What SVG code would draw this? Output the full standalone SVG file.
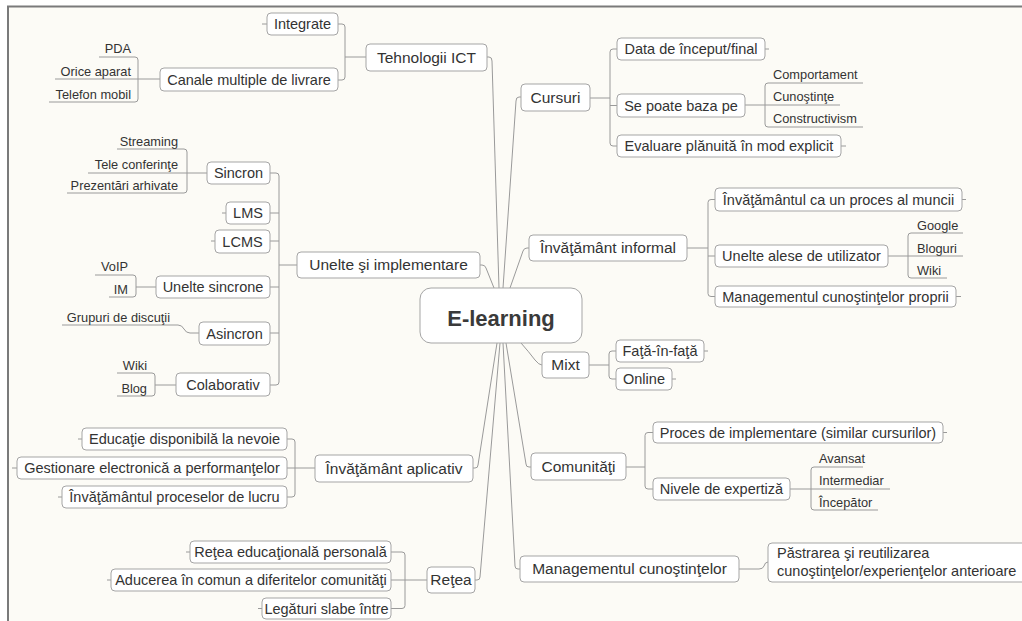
<svg xmlns="http://www.w3.org/2000/svg" width="1022" height="621" viewBox="0 0 1022 621">
<style>
.bx{fill:#fff;stroke:#a5a5a5;stroke-width:1}
.t{font-family:"Liberation Sans",Arial,sans-serif;font-size:14.5px;fill:#333}
.m{text-anchor:middle}
.s{font-family:"Liberation Sans",Arial,sans-serif;font-size:12.8px;fill:#333}
.e{text-anchor:end}
.c{fill:none;stroke:#9a9a9a;stroke-width:1}
</style>
<rect x="0" y="0" width="1022" height="621" fill="#fff"/>
<rect x="8" y="6" width="1014" height="615" fill="#fcfbf6"/>
<path d="M8,621 V6.5 H1022" fill="none" stroke="#7a7a7a" stroke-width="2"/>

<g id="connectors" class="c">
<!-- main -->
<path d="M487,57 H489 Q492,57 492,61 L499,288"/>
<path d="M521,97 H519 Q516,97 516,101 L503,288"/>
<path d="M480,265 H482 Q485,265 486,268 L494,288"/>
<path d="M529,248 H527 Q524,248 523,251 L510,288"/>
<path d="M521,343 Q529,352 535,360 Q539,365 542,365"/>
<path d="M473,468 H475 Q478,468 478,465 L497,343"/>
<path d="M475,580 H477 Q480,580 480,577 L500,343"/>
<path d="M520,569 H518 Q515,569 515,566 L503,343"/>
<path d="M531,467 H529 Q526,467 526,464 L506,343"/>
<!-- Tehnologii ICT -->
<path d="M338,24 H342 Q345,24 345,27 V77 Q345,80 342,80 H338 M345,57 H366"/>
<path d="M99,57 H135 Q138,57 138,60 V99 Q138,102 135,102 H49 M55,79 H160"/>
<path d="M267,24 H262"/>
<!-- Unelte -->
<path d="M270,173 H276 Q279,173 279,176 V382 Q279,385 276,385 H270 M270,213 H279 M270,241 H279 M270,287 H279 M270,333 H279 M279,265 H297"/>
<path d="M117,149 H184 Q187,149 187,152 V190 Q187,193 184,193 H67 M88,173 H207"/>
<path d="M226,213 H222 M215,241 H211"/>
<path d="M95,275 H133 Q136,275 136,278 V294 Q136,297 133,297 H109 M136,287 H156"/>
<path d="M62,325 H178 Q182,325 184,329 Q186,333 190,333 H199"/>
<path d="M117,373 H152 Q155,373 155,376 V393 Q155,396 152,396 H117 M155,385 H176"/>
<!-- Cursuri -->
<path d="M617,49 H613 Q610,49 610,52 V143 Q610,146 613,146 H617 M610,105.5 H617 M590,98 H610"/>
<path d="M765,49 H769 M841,146 H846"/>
<path d="M863,83 H768 Q765,83 765,86 V124 Q765,127 768,127 H863 M745,105 H840"/>
<!-- Informal -->
<path d="M715,199.5 H711 Q708,199.5 708,202.5 V293.5 Q708,296.5 711,296.5 H715 M708,256 H715 M687,248 H708"/>
<path d="M962,199.5 H966 M956,296.5 H961"/>
<path d="M963,233 H911 Q908,233 908,236 V275 Q908,278 911,278 H947 M888,256 H963"/>
<!-- Mixt -->
<path d="M616,351 H612 Q609,351 609,354 V376 Q609,379 612,379 H616 M589,365 H609"/>
<path d="M704,351 H708 M672,379 H676"/>
<!-- Aplicativ -->
<path d="M287,439 H292 Q295,439 295,442 V494 Q295,497 292,497 H287 M287,468 H315"/>
<path d="M82,439 H78 M17,468 H12 M62,497 H58"/>
<!-- Retea -->
<path d="M391,552 H402 Q405,552 405,555 V605.5 Q405,608.5 402,608.5 H391 M391,580 H427"/>
<path d="M190,552 H186 M111,580 H107 M262,608.5 H258"/>
<!-- Comunitati -->
<path d="M653,432.5 H648 Q645,432.5 645,435.5 V486 Q645,489 648,489 H653 M626,467 H645"/>
<path d="M943,432.5 H947"/>
<path d="M863,467 H814 Q811,467 811,470 V507 Q811,510 814,510 H878 M790,489 H890"/>
<!-- Management -->
<path d="M739,569 H759 Q763,569 764,566 Q765,562 768,562"/>
</g>

<g id="n-center"><rect class="bx" x="420" y="288" width="162" height="55" rx="11"/><text x="501" y="326" class="t m" style="font-size:22px;font-weight:bold;fill:#3a3a3a">E-learning</text></g>

<g id="n-tehnologii"><rect class="bx" x="366" y="44" width="121" height="27" rx="4"/><text x="426.5" y="62.5" class="t m" style="font-size:15.5px">Tehnologii ICT</text></g>
<g id="n-integrate"><rect class="bx" x="267" y="13" width="71" height="22" rx="4"/><text x="302.5" y="29" class="t m">Integrate</text></g>
<g id="n-canale"><rect class="bx" x="160" y="68" width="178" height="23" rx="4"/><text x="249" y="84.5" class="t m">Canale multiple de livrare</text></g>
<g id="n-pda"><text x="131" y="53" class="s e">PDA</text></g>
<g id="n-orice"><text x="131" y="75.5" class="s e">Orice aparat</text></g>
<g id="n-telefon"><text x="131" y="98.5" class="s e">Telefon mobil</text></g>

<g id="n-unelte"><rect class="bx" x="297" y="252" width="183" height="26" rx="4"/><text x="388.5" y="270" class="t m" style="font-size:15.5px">Unelte şi implementare</text></g>
<g id="n-sincron"><rect class="bx" x="207" y="162" width="63" height="22" rx="4"/><text x="238.5" y="178" class="t m">Sincron</text></g>
<g id="n-streaming"><text x="178" y="145.5" class="s e">Streaming</text></g>
<g id="n-tele"><text x="178" y="168.5" class="s e">Tele conferinţe</text></g>
<g id="n-prezentari"><text x="178" y="190" class="s e">Prezentări arhivate</text></g>
<g id="n-lms"><rect class="bx" x="226" y="202" width="44" height="22" rx="4"/><text x="248" y="218" class="t m">LMS</text></g>
<g id="n-lcms"><rect class="bx" x="215" y="230" width="55" height="23" rx="4"/><text x="242.5" y="246.5" class="t m">LCMS</text></g>
<g id="n-uneltesincrone"><rect class="bx" x="156" y="276" width="114" height="22" rx="4"/><text x="213" y="292" class="t m">Unelte sincrone</text></g>
<g id="n-voip"><text x="128" y="271" class="s e">VoIP</text></g>
<g id="n-im"><text x="128" y="293.5" class="s e">IM</text></g>
<g id="n-asincron"><rect class="bx" x="199" y="322" width="71" height="23" rx="4"/><text x="234.5" y="338.5" class="t m">Asincron</text></g>
<g id="n-grupuri"><text x="170" y="321.5" class="s e">Grupuri de discuţii</text></g>
<g id="n-colaborativ"><rect class="bx" x="176" y="373" width="94" height="23" rx="4"/><text x="223" y="389.5" class="t m">Colaborativ</text></g>
<g id="n-wiki1"><text x="147" y="369.5" class="s e">Wiki</text></g>
<g id="n-blog"><text x="147" y="392.5" class="s e">Blog</text></g>

<g id="n-cursuri"><rect class="bx" x="521" y="84" width="69" height="27" rx="4"/><text x="555.5" y="102.5" class="t m" style="font-size:15.5px">Cursuri</text></g>
<g id="n-data"><rect class="bx" x="617" y="38" width="148" height="22" rx="4"/><text x="691" y="54" class="t m">Data de început/final</text></g>
<g id="n-sepoate"><rect class="bx" x="617" y="94" width="128" height="23" rx="4"/><text x="681" y="110.5" class="t m">Se poate baza pe</text></g>
<g id="n-evaluare"><rect class="bx" x="617" y="135" width="224" height="22" rx="4"/><text x="729" y="151" class="t m">Evaluare plănuită în mod explicit</text></g>
<g id="n-comportament"><text x="773" y="79" class="s">Comportament</text></g>
<g id="n-cunostinte"><text x="773" y="101" class="s">Cunoştinţe</text></g>
<g id="n-constructivism"><text x="773" y="123" class="s">Constructivism</text></g>

<g id="n-informal"><rect class="bx" x="529" y="235" width="158" height="26" rx="4"/><text x="608" y="253" class="t m" style="font-size:15.5px">Învăţământ informal</text></g>
<g id="n-proces-muncii"><rect class="bx" x="715" y="188" width="247" height="23" rx="4"/><text x="838.5" y="204.5" class="t m">Învăţământul ca un proces al muncii</text></g>
<g id="n-unelte-alese"><rect class="bx" x="715" y="245" width="173" height="22" rx="4"/><text x="801.5" y="261" class="t m">Unelte alese de utilizator</text></g>
<g id="n-mgmt-propriu"><rect class="bx" x="715" y="286" width="241" height="21" rx="4"/><text x="835.5" y="301.5" class="t m">Managementul cunoştinţelor proprii</text></g>
<g id="n-google"><text x="917" y="229.5" class="s">Google</text></g>
<g id="n-bloguri"><text x="917" y="252.5" class="s">Bloguri</text></g>
<g id="n-wiki2"><text x="917" y="274.5" class="s">Wiki</text></g>

<g id="n-mixt"><rect class="bx" x="542" y="352" width="47" height="26" rx="4"/><text x="565.5" y="370" class="t m" style="font-size:15.5px">Mixt</text></g>
<g id="n-fata"><rect class="bx" x="616" y="340" width="88" height="22" rx="4"/><text x="660" y="356" class="t m">Faţă-în-faţă</text></g>
<g id="n-online"><rect class="bx" x="616" y="368" width="56" height="22" rx="4"/><text x="644" y="384" class="t m">Online</text></g>

<g id="n-aplicativ"><rect class="bx" x="315" y="455" width="158" height="27" rx="4"/><text x="394" y="473.5" class="t m" style="font-size:15.5px">Învăţământ aplicativ</text></g>
<g id="n-educatie"><rect class="bx" x="82" y="428" width="205" height="22" rx="4"/><text x="184.5" y="444" class="t m">Educaţie disponibilă la nevoie</text></g>
<g id="n-gestionare"><rect class="bx" x="17" y="457" width="270" height="22" rx="4"/><text x="152" y="473" class="t m">Gestionare electronică a performanţelor</text></g>
<g id="n-procese-lucru"><rect class="bx" x="62" y="486" width="225" height="22" rx="4"/><text x="174.5" y="502" class="t m">Învăţământul proceselor de lucru</text></g>

<g id="n-retea"><rect class="bx" x="427" y="567" width="48" height="26" rx="4"/><text x="451" y="585" class="t m" style="font-size:15.5px">Reţea</text></g>
<g id="n-retea-edu"><rect class="bx" x="190" y="541" width="201" height="22" rx="4"/><text x="290.5" y="557" class="t m">Reţea educaţională personală</text></g>
<g id="n-aducerea"><rect class="bx" x="111" y="569" width="280" height="22" rx="4"/><text x="251" y="585" class="t m">Aducerea în comun a diferitelor comunităţi</text></g>
<g id="n-legaturi"><rect class="bx" x="262" y="598" width="129" height="21" rx="4"/><text x="326.5" y="613.5" class="t m">Legături slabe între</text></g>

<g id="n-comunitati"><rect class="bx" x="531" y="453" width="95" height="27" rx="4"/><text x="578.5" y="471.5" class="t m" style="font-size:15.5px">Comunităţi</text></g>
<g id="n-proces-impl"><rect class="bx" x="653" y="422" width="290" height="21" rx="4"/><text x="798" y="437.5" class="t m">Proces de implementare (similar cursurilor)</text></g>
<g id="n-nivele"><rect class="bx" x="653" y="478" width="137" height="22" rx="4"/><text x="721.5" y="494" class="t m">Nivele de expertiză</text></g>
<g id="n-avansat"><text x="819" y="463" class="s">Avansat</text></g>
<g id="n-intermediar"><text x="819" y="485" class="s">Intermediar</text></g>
<g id="n-incepator"><text x="819" y="507" class="s">Începător</text></g>

<g id="n-management"><rect class="bx" x="520" y="556" width="219" height="26" rx="4"/><text x="629.5" y="574" class="t m" style="font-size:15.5px">Managementul cunoştinţelor</text></g>
<g id="n-pastrarea"><rect class="bx" x="768" y="543" width="262" height="39" rx="4"/><text x="777" y="558" class="t">Păstrarea şi reutilizarea</text><text x="777" y="575.5" class="t">cunoştinţelor/experienţelor anterioare</text></g>
</svg>
